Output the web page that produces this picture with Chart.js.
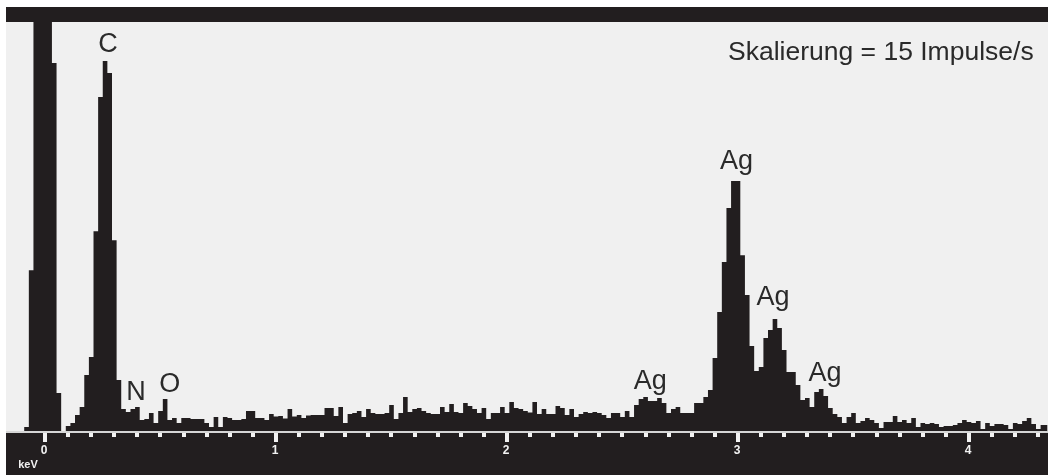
<!DOCTYPE html>
<html>
<head>
<meta charset="utf-8">
<script src="https://cdn.jsdelivr.net/npm/chart.js@4/dist/chart.umd.min.js"></script>
<style>
  html, body { margin: 0; padding: 0; background: #ffffff; }
  canvas { display: block; }
</style>
</head>
<body>
<canvas id="spectrum" width="1048" height="475"></canvas>
<script>
// EDX spectrum: detector channels of 0.02 keV, first channel centred at -0.16 keV
const channelStartKeV = -0.16;
const channelWidthKeV = 0.02;

// Count rate per channel (Impulse/s), ten channels per row
const counts = [
  0.00, 0.00, 0.00, 0.00, 0.15, 5.90, 18.0, 21.0, 22.0, 19.0,   // -0.16 .. 0.02
  13.50, 1.39, 0.00, 0.18, 0.29, 0.59, 0.88, 2.05, 2.71, 7.33,  //  0.04 .. 0.22
  12.25, 13.57, 13.13, 7.00, 1.87, 0.81, 0.70, 0.81, 0.88, 0.40,//  0.24 .. 0.42
  0.44, 0.66, 0.29, 0.73, 1.17, 0.40, 0.48, 0.29, 0.48, 0.48,   //  0.44 .. 0.62
  0.44, 0.44, 0.44, 0.29, 0.15, 0.51, 0.15, 0.51, 0.48, 0.40,   //  0.64 .. 0.82
  0.40, 0.44, 0.73, 0.73, 0.48, 0.48, 0.40, 0.62, 0.53, 0.55,   //  0.84 .. 1.02
  0.46, 0.81, 0.53, 0.59, 0.48, 0.57, 0.59, 0.59, 0.59, 0.84,   //  1.04 .. 1.22
  0.84, 0.55, 0.88, 0.29, 0.62, 0.66, 0.73, 0.51, 0.81, 0.66,   //  1.24 .. 1.42
  0.62, 0.62, 0.66, 0.95, 0.44, 0.66, 1.25, 0.70, 0.81, 0.84,   //  1.44 .. 1.62
  0.73, 0.66, 0.62, 0.62, 0.88, 0.70, 0.99, 0.70, 0.66, 1.03,   //  1.64 .. 1.82
  0.92, 0.81, 0.66, 0.84, 0.44, 0.66, 0.66, 0.88, 0.66, 1.06,   //  1.84 .. 2.02
  0.84, 0.81, 0.73, 0.68, 1.06, 0.62, 0.81, 0.62, 0.62, 0.92,   //  2.04 .. 2.22
  0.84, 0.59, 0.81, 0.51, 0.62, 0.70, 0.66, 0.70, 0.66, 0.59,   //  2.24 .. 2.42
  0.48, 0.66, 0.66, 0.51, 0.73, 0.51, 0.95, 1.17, 1.25, 1.10,   //  2.44 .. 2.62
  1.10, 1.21, 1.03, 0.66, 0.81, 0.88, 0.66, 0.66, 0.66, 1.03,   //  2.64 .. 2.82
  1.03, 1.25, 1.50, 2.68, 4.36, 6.20, 8.18, 9.17, 9.17, 6.45,   //  2.84 .. 3.02
  4.99, 3.12, 2.20, 2.35, 3.41, 3.70, 4.11, 3.78, 2.97, 2.16,   //  3.04 .. 3.22
  2.16, 1.69, 1.14, 1.21, 0.88, 1.43, 1.54, 1.28, 0.84, 0.62,   //  3.24 .. 3.42
  0.51, 0.29, 0.51, 0.66, 0.29, 0.37, 0.48, 0.40, 0.29, 0.11,   //  3.44 .. 3.62
  0.33, 0.33, 0.55, 0.33, 0.40, 0.29, 0.48, 0.15, 0.29, 0.26,   //  3.64 .. 3.82
  0.29, 0.26, 0.15, 0.18, 0.18, 0.22, 0.29, 0.40, 0.33, 0.29,   //  3.84 .. 4.02
  0.37, 0.07, 0.29, 0.18, 0.26, 0.26, 0.22, 0.07, 0.29, 0.26,   //  4.04 .. 4.22
  0.37, 0.48, 0.26, 0.07, 0.22, 0.22                            //  4.24 .. 4.34
];

// Axis ticks (keV)
const majorTickKeV = [0, 1, 2, 3, 4];
const minorTickStepKeV = 0.1;
const lastMinorTickKeV = 4.3;

// Peak identification labels
const peakNames = ['C', 'N', 'O', 'Ag', 'Ag', 'Ag', 'Ag'];
const peakKeV   = [0.273, 0.394, 0.54, 2.62, 2.994, 3.152, 3.377];
// label baselines, in the y-axis units
const peakLabelAt = [13.90, 1.14, 1.43, 1.54, 9.61, 4.62, 1.83];

const scaleText = 'Skalierung = 15 Impulse/s';
const fullScale = 15;

const INK = '#221e1f';
const PAPER = '#f0f0f0';

const points = counts.map((c, i) => ({ x: channelStartKeV + i * channelWidthKeV, y: c }));

const frame = {
  id: 'frame',
  beforeDraw(chart) {
    const ctx = chart.ctx;
    const a = chart.chartArea;
    ctx.save();
    ctx.fillStyle = '#ffffff';
    ctx.fillRect(0, 0, chart.width, chart.height);
    ctx.fillStyle = PAPER;
    ctx.fillRect(a.left - 1, a.top, a.right - a.left + 1, a.bottom - a.top);
    ctx.fillStyle = INK;
    ctx.fillRect(a.left - 1, 7, a.right - a.left + 1, a.top - 7);
    ctx.fillStyle = '#d6d6d6';
    ctx.fillRect(a.left - 1, a.bottom, a.right - a.left + 1, 2);
    ctx.fillStyle = INK;
    ctx.fillRect(a.left - 1, a.bottom + 2, a.right - a.left + 1, chart.height - a.bottom - 2);
    ctx.restore();
  },
  afterDraw(chart) {
    const ctx = chart.ctx;
    const a = chart.chartArea;
    const xs = chart.scales.x;
    const ys = chart.scales.y;
    const bandTop = a.bottom + 2;
    ctx.save();
    ctx.fillStyle = '#f2f2f2';
    for (let k = 0; k * minorTickStepKeV <= lastMinorTickKeV + 1e-9; k++) {
      const px = Math.round(xs.getPixelForValue(k * minorTickStepKeV));
      ctx.fillRect(px - 2, bandTop, 4, 4);
    }
    ctx.font = 'bold 12px "Liberation Sans", Arial, sans-serif';
    ctx.textAlign = 'center';
    ctx.textBaseline = 'middle';
    majorTickKeV.forEach(v => {
      const px = Math.round(xs.getPixelForValue(v));
      ctx.fillRect(px - 2, bandTop, 4, 9);
      ctx.fillText(String(v), px - 1, bandTop + 18);
    });
    ctx.font = 'bold 11px "Liberation Sans", Arial, sans-serif';
    ctx.fillText('keV', 28, bandTop + 32);

    ctx.fillStyle = '#2a2a2a';
    ctx.font = '27px "Liberation Sans", Arial, sans-serif';
    ctx.textAlign = 'center';
    ctx.textBaseline = 'alphabetic';
    peakNames.forEach((name, i) => {
      ctx.fillText(name, xs.getPixelForValue(peakKeV[i]), ys.getPixelForValue(peakLabelAt[i]));
    });

    ctx.font = '26.5px "Liberation Sans", Arial, sans-serif';
    ctx.textAlign = 'left';
    ctx.fillText(scaleText, 728, 60);
    ctx.restore();
  }
};

new Chart(document.getElementById('spectrum').getContext('2d'), {
  type: 'line',
  data: {
    datasets: [{
      data: points,
      stepped: 'middle',
      fill: 'origin',
      backgroundColor: INK,
      borderColor: 'rgba(0,0,0,0)',
      borderWidth: 0,
      pointRadius: 0,
      pointHoverRadius: 0
    }]
  },
  options: {
    responsive: false,
    animation: false,
    devicePixelRatio: 1,
    events: [],
    layout: { padding: { left: 7, right: 0, top: 22, bottom: 44 } },
    scales: {
      x: { type: 'linear', min: -0.1645, max: 4.342, display: false },
      y: { min: 0, max: fullScale, display: false }
    },
    plugins: { legend: { display: false }, tooltip: { enabled: false } }
  },
  plugins: [frame]
});
</script>
</body>
</html>
